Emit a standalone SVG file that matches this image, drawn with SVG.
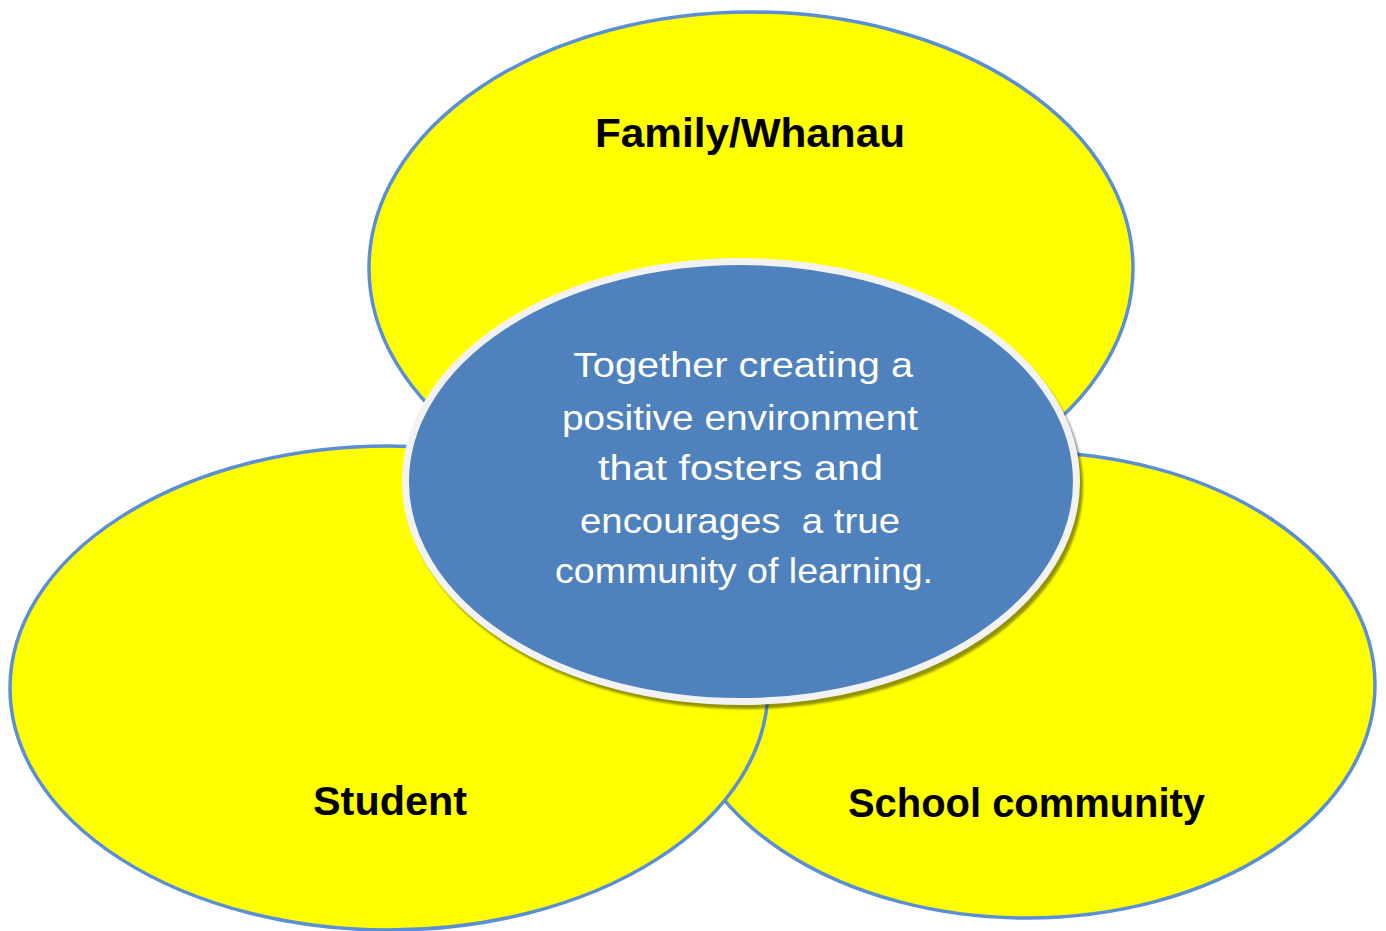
<svg xmlns="http://www.w3.org/2000/svg" width="1386" height="931" viewBox="0 0 1386 931">
  <style>
    .petal { fill: #FFFF00; stroke: #5A8FD6; stroke-width: 3.5; }
    .label { font-family: "Liberation Sans", Arial, sans-serif; font-weight: bold; font-size: 40px; fill: #000000; }
    .core { fill: #4F81BD; stroke: #F2F2F2; stroke-width: 7; }
    .coretext { font-family: "Liberation Sans", Arial, sans-serif; font-size: 35px; fill: #FFFFFF; }
  </style>
  <defs>
    <filter id="soft" x="-10%" y="-10%" width="120%" height="120%">
      <feGaussianBlur stdDeviation="1.2"/>
    </filter>
  </defs>
  <rect width="1386" height="931" fill="#FFFFFF"/>

  <g id="family">
    <ellipse class="petal" cx="751" cy="268" rx="382" ry="256"/>
    <text class="label" x="595" y="147" textLength="310" lengthAdjust="spacingAndGlyphs">Family/Whanau</text>
  </g>

  <g id="school-community">
    <ellipse class="petal" cx="1027" cy="685" rx="348" ry="233"/>
    <text class="label" x="848" y="817" textLength="357" lengthAdjust="spacingAndGlyphs">School community</text>
  </g>

  <g id="student">
    <ellipse class="petal" cx="389" cy="688" rx="379" ry="242"/>
    <text class="label" x="313" y="815" textLength="154" lengthAdjust="spacingAndGlyphs">Student</text>
  </g>

  <g id="connectors"></g>

  <g id="centre">
    <ellipse cx="744" cy="486" rx="339" ry="223" fill="#000000" opacity="0.42" filter="url(#soft)"/>
    <ellipse class="core" cx="741" cy="481.5" rx="335.5" ry="220"/>
    <text class="coretext" xml:space="preserve">
      <tspan x="573" y="377" textLength="340" lengthAdjust="spacingAndGlyphs">Together creating a</tspan>
      <tspan x="562" y="430" textLength="356" lengthAdjust="spacingAndGlyphs">positive environment</tspan>
      <tspan x="598" y="480" textLength="285" lengthAdjust="spacingAndGlyphs">that fosters and</tspan>
      <tspan x="580" y="533" textLength="320" lengthAdjust="spacingAndGlyphs">encourages  a true</tspan>
      <tspan x="555" y="583" textLength="378" lengthAdjust="spacingAndGlyphs">community of learning.</tspan>
    </text>
  </g>
</svg>
